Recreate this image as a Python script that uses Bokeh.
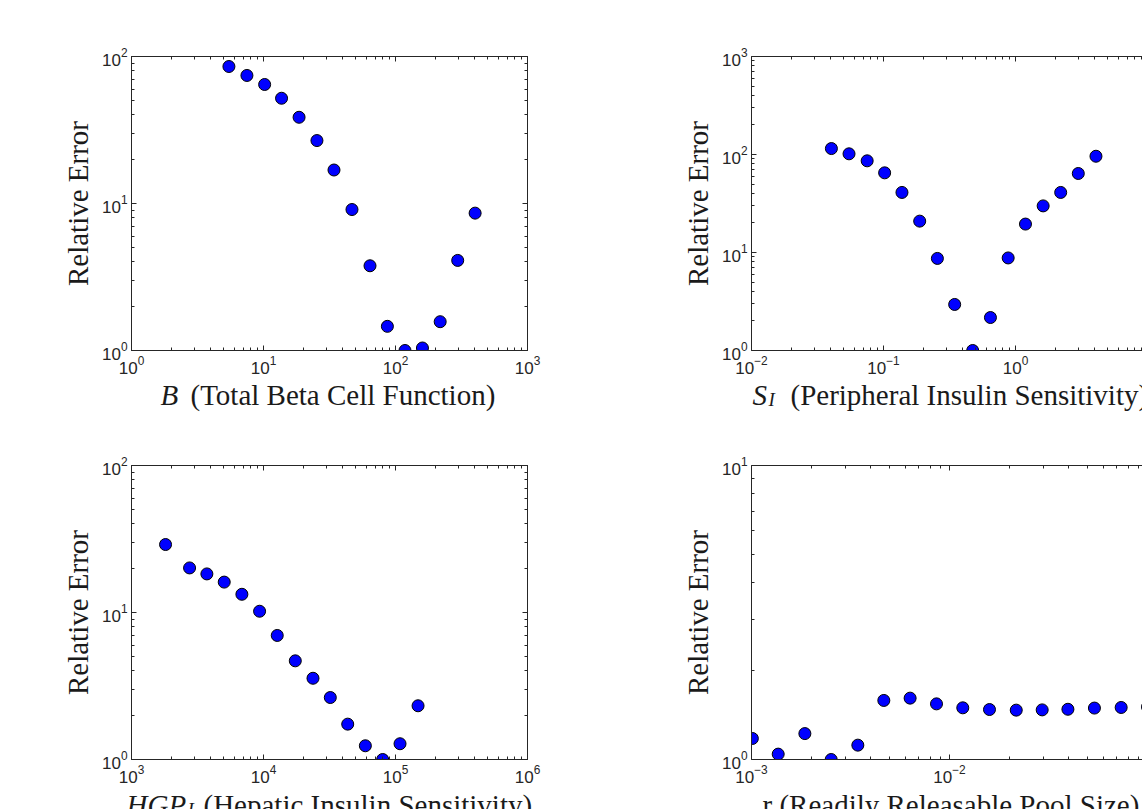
from bokeh.plotting import figure
from bokeh.models import LogAxis, FixedTicker, LogTickFormatter, Label, Range1d, CustomJSTickFormatter
from bokeh.layouts import column, row
from bokeh.embed import file_html
from bokeh.resources import INLINE

# ---------------- data ----------------
B_x = [5.47, 7.49, 10.2, 13.7, 18.6, 25.4, 34.2, 46.8, 64.1, 86.8, 118, 160, 218, 296, 401]
B_err = [85.5, 74.3, 64.5, 52.0, 38.6, 26.8, 16.9, 9.1, 3.77, 1.46, 1.0, 1.04, 1.57, 4.1, 8.6]

SI_x = [0.0403, 0.0548, 0.0752, 0.102, 0.138, 0.188, 0.256, 0.346, 0.474, 0.646,
        0.88, 1.19, 1.62, 2.2, 2.99, 4.07]
SI_err = [115, 101.6, 86.2, 65, 41, 20.9, 8.7, 2.95, 1.0, 2.17, 8.8, 19.5, 29.9, 41, 64, 96]

HGP_x = [1811, 2754, 3724, 5040, 6859, 9339, 12710, 17410, 23710, 32070, 43450,
         59110, 79980, 108200, 148200]
HGP_err = [29.0, 20.1, 18.3, 16.1, 13.3, 10.2, 6.98, 4.69, 3.57, 2.64, 1.74, 1.24, 1.0, 1.28, 2.32]

r_x = [0.00101, 0.001364, 0.00186, 0.002526, 0.003444, 0.004659, 0.006325, 0.008597,
       0.01167, 0.01592, 0.02173, 0.02938, 0.03963, 0.05395, 0.07362, 0.1]
r_err = [1.179, 1.043, 1.225, 1.0, 1.119, 1.588, 1.617, 1.546, 1.499, 1.479, 1.472,
         1.475, 1.482, 1.496, 1.503, 1.51]

# axis decades (tick labels are 10^k for k in these spans)
B_xdec = [0, 3]; B_ydec = [0, 2]
SI_xdec = [-2, 1]; SI_ydec = [0, 3]
HGP_xdec = [3, 6]; HGP_ydec = [0, 2]
r_xdec = [-3, -1]; r_ydec = [0, 1]

Y_LABEL = "Relative Error"
B_SYM, B_NAME = "B", "(Total Beta Cell Function)"
SI_SYM, SI_SUB, SI_NAME = "S", "I", "(Peripheral Insulin Sensitivity)"
HGP_SYM, HGP_SUB, HGP_NAME = "HGP", "I", "(Hepatic Insulin Sensitivity)"
R_NAME = "r (Readily Releasable Pool Size)"

# ---------------- styling ----------------
AX = "#262626"
TXT = "#1a1a1a"
SERIF = "Liberation Serif"
SANS = "Liberation Sans"
FS = "29px"
SUB = "19px"
FULL_W = 396      # full frame width of a panel
FRAME_H = 294


def ticks_for(dec):
    majors = [10.0 ** k for k in range(dec[0], dec[1] + 1)]
    minors = [m * 10.0 ** k for k in range(dec[0], dec[1]) for m in range(2, 10)]
    return FixedTicker(ticks=majors, minor_ticks=minors)


def style_axis(ax, dec, show_labels=True, standoff=4):
    ax.ticker = ticks_for(dec)
    ax.axis_line_color = AX
    ax.major_tick_line_color = AX
    ax.minor_tick_line_color = AX
    ax.major_tick_in = 5
    ax.major_tick_out = 0
    ax.minor_tick_in = 3
    ax.minor_tick_out = 0
    ax.major_label_text_font = SANS
    ax.major_label_text_font_size = "17px"
    ax.major_label_text_color = AX
    ax.major_label_standoff = standoff
    if show_labels:
        ax.formatter = LogTickFormatter()
    else:
        ax.formatter = CustomJSTickFormatter(code="return ''")


def panel(x, y, xdec, ydec, frame_w, lb, rb, tb, bb, right_box):
    xlo = 10.0 ** xdec[0]
    xhi = 10.0 ** (xdec[0] + (xdec[1] - xdec[0]) * frame_w / FULL_W)
    p = figure(width=lb + frame_w + rb, height=tb + FRAME_H + bb,
               x_axis_type="log", y_axis_type="log",
               x_range=Range1d(xlo, xhi), y_range=Range1d(10.0 ** ydec[0], 10.0 ** ydec[1]),
               output_backend="svg", toolbar_location=None,
               min_border_left=lb, min_border_right=rb,
               min_border_top=tb, min_border_bottom=bb)
    p.grid.visible = False
    p.background_fill_color = "white"
    p.border_fill_color = "white"
    if right_box:
        p.outline_line_color = AX
        p.outline_line_width = 1
    else:
        p.outline_line_color = None

    style_axis(p.xaxis[0], xdec, standoff=5)
    style_axis(p.yaxis[0], ydec, standoff=4)
    ya = p.yaxis[0]
    ya.axis_label = Y_LABEL
    ya.axis_label_text_font = SERIF
    ya.axis_label_text_font_size = FS
    ya.axis_label_text_font_style = "normal"
    ya.axis_label_text_color = TXT
    ya.axis_label_standoff = 5

    top = LogAxis()
    style_axis(top, xdec, show_labels=False)
    p.add_layout(top, "above")
    if right_box:
        right = LogAxis()
        style_axis(right, ydec, show_labels=False)
        p.add_layout(right, "right")

    p.scatter(x, y, size=12, marker="circle", fill_color="#0000ff",
              line_color="black", line_width=1)
    return p


def label_fig(width, height, parts):
    f = figure(width=width, height=height, x_range=Range1d(0, width), y_range=Range1d(0, height),
               output_backend="svg", toolbar_location=None,
               x_axis_location=None, y_axis_location=None,
               min_border_left=0, min_border_right=0, min_border_top=0, min_border_bottom=0)
    f.outline_line_color = None
    f.grid.visible = False
    f.background_fill_color = "white"
    f.border_fill_color = "white"
    for (txt, xo, yo, size, style) in parts:
        f.add_layout(Label(x=xo, y=yo, text=txt,
                           text_font=SERIF, text_font_size=size, text_font_style=style,
                           text_color=TXT, text_baseline="alphabetic", text_align="left"))
    return f


# layout: left panels frame at x=131, right panels frame at x=751; frames 294 tall at y=56 and y=465
W_LEFT = 131 + FULL_W + 100      # 627
W_RIGHT = 1142 - W_LEFT          # 515  (frame 391 wide, clipped by the window like the reference)

p1 = panel(B_x, B_err, B_xdec, B_ydec, FULL_W, 131, 100, 56, 30, True)
p2 = panel(SI_x, SI_err, SI_xdec, SI_ydec, W_RIGHT - 124, 124, 0, 56, 30, False)
p3 = panel(HGP_x, HGP_err, HGP_xdec, HGP_ydec, FULL_W, 131, 100, 45, 30, True)
p4 = panel(r_x, r_err, r_xdec, r_ydec, W_RIGHT - 124, 124, 0, 45, 30, False)

YT, YB = 26, 5
l1 = label_fig(W_LEFT, 40, [(B_SYM, 160, YT, FS, "italic"),
                            (B_NAME, 190, YT, FS, "normal")])
l2 = label_fig(W_RIGHT, 40, [(SI_SYM, 125, YT, FS, "italic"),
                             (SI_SUB, 141, YT - 5, SUB, "italic"),
                             (SI_NAME, 163, YT, FS, "normal")])
l3 = label_fig(W_LEFT, 20, [(HGP_SYM, 126, YB, FS, "italic"),
                            (HGP_SUB, 187, YB - 5, SUB, "italic"),
                            (HGP_NAME, 203, YB, FS, "normal")])
l4 = label_fig(W_RIGHT, 20, [(R_NAME, 135, YB, FS, "normal")])

layout = column(row(p1, p2), row(l1, l2), row(p3, p4), row(l3, l4))

open("out.html", "w").write(file_html(layout, INLINE))
